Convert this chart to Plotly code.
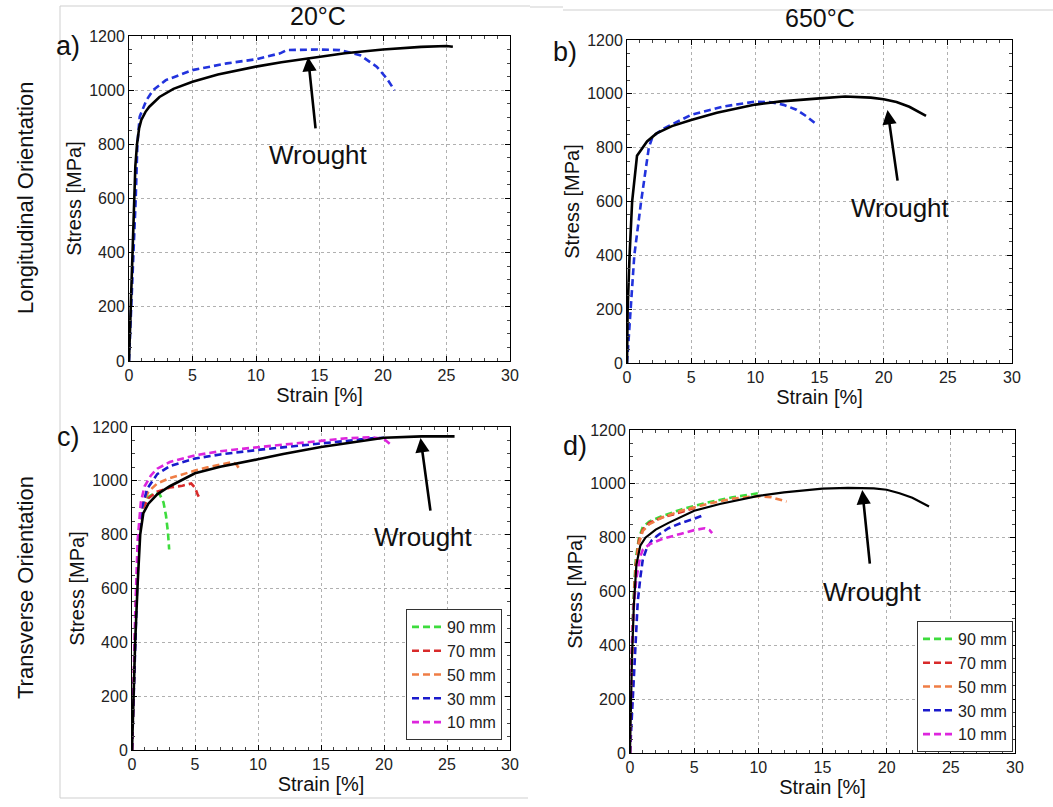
import plotly.graph_objects as go

# ---- data (strain %, stress MPa) ----
a_wrought_x = [0, 0.13, 0.26, 0.37, 0.5, 0.63, 0.8, 0.97, 1.3, 1.6, 2.4, 3.5, 5, 7, 10, 12, 15, 17, 20, 23, 25, 25.5]
a_wrought_y = [0, 200, 400, 600, 720, 800, 860, 890, 920, 939, 975, 1005, 1031, 1058, 1087, 1103, 1124, 1136, 1150, 1160, 1163, 1160]
a_am_x = [0, 0.18, 0.4, 0.53, 0.66, 0.84, 1.37, 1.9, 2.9, 5, 7.7, 10, 11.9, 12.4, 14.8, 16.6, 18.2, 19.5, 20.3, 20.9]
a_am_y = [0, 200, 400, 600, 800, 902, 963, 1000, 1037, 1074, 1099, 1114, 1136, 1148, 1150, 1148, 1129, 1087, 1043, 1000]

b_wrought_x = [0, 0.05, 0.2, 0.4, 0.78, 1.56, 2.3, 3.5, 5, 7, 10, 12, 15, 17, 19, 20, 21, 22, 23.3]
b_wrought_y = [0, 200, 400, 600, 770, 823, 853, 880, 903, 930, 960, 972, 983, 990, 986, 980, 970, 952, 918]
b_am_x = [0, 0.26, 0.57, 1.1, 1.7, 2.0, 2.9, 5, 7.5, 10, 11.2, 12.2, 13.2, 14, 14.8]
b_am_y = [0, 200, 400, 600, 800, 842, 872, 922, 953, 971, 969, 959, 941, 916, 885]

c_wrought_x = [0, 0.1, 0.25, 0.45, 0.65, 0.9, 1.3, 2, 3, 5, 7, 10, 12, 15, 17, 20, 23, 25, 25.6]
c_wrought_y = [0, 200, 400, 620, 800, 880, 915, 950, 980, 1028, 1052, 1080, 1100, 1126, 1140, 1160, 1165, 1166, 1165]
c_90_x = [0, 0.15, 0.35, 0.6, 0.9, 1.3, 1.8, 2.2, 2.5, 2.7, 2.85, 2.95]
c_90_y = [0, 300, 600, 830, 910, 940, 955, 950, 920, 870, 810, 745]
c_70_x = [0, 0.15, 0.35, 0.6, 0.9, 1.3, 2, 3, 4, 4.7, 5.0, 5.2, 5.4]
c_70_y = [0, 300, 600, 820, 900, 935, 960, 975, 982, 990, 975, 950, 932]
c_50_x = [0, 0.15, 0.35, 0.6, 0.9, 1.3, 2, 3, 4, 5, 6, 7, 8, 8.3, 8.5]
c_50_y = [0, 300, 600, 830, 920, 960, 990, 1010, 1025, 1038, 1050, 1060, 1070, 1060, 1045]
c_30_x = [0, 0.1, 0.3, 0.5, 0.8, 1.2, 2, 3, 5, 7, 10, 12, 15, 17, 19, 20]
c_30_y = [0, 150, 450, 750, 900, 970, 1025, 1055, 1083, 1098, 1115, 1125, 1140, 1150, 1158, 1160]
c_10_x = [0, 0.1, 0.25, 0.45, 0.7, 1, 1.5, 2, 3, 5, 7, 10, 12, 15, 17, 19, 20, 20.6]
c_10_y = [0, 200, 500, 780, 920, 980, 1020, 1045, 1070, 1095, 1110, 1125, 1135, 1150, 1158, 1162, 1155, 1132]

d_wrought_x = [0, 0.05, 0.15, 0.3, 0.5, 0.8, 1.2, 2, 3, 5, 7, 10, 12, 15, 17, 19, 20, 21, 22, 23.3]
d_wrought_y = [0, 150, 350, 550, 700, 770, 800, 830, 855, 900, 925, 955, 968, 982, 985, 983, 978, 965, 948, 916]
d_90_x = [0, 0.1, 0.25, 0.45, 0.7, 1, 1.5, 2.5, 4, 6, 8, 10]
d_90_y = [0, 300, 550, 720, 800, 840, 860, 880, 905, 930, 950, 965]
d_70_x = [0, 0.1, 0.25, 0.45, 0.7, 1, 1.5, 2.5, 4, 5, 5.1]
d_70_y = [0, 280, 520, 700, 790, 830, 855, 875, 895, 910, 905]
d_50_x = [0, 0.1, 0.25, 0.45, 0.7, 1, 1.5, 2.5, 4, 6, 8, 10, 11, 12.2]
d_50_y = [0, 270, 500, 690, 780, 825, 850, 875, 900, 925, 945, 955, 950, 934]
d_30_x = [0, 0.2, 0.4, 0.6, 0.8, 1, 1.3, 1.7, 2.2, 3, 4, 5, 5.8]
d_30_y = [0, 200, 400, 560, 650, 720, 760, 790, 810, 835, 855, 870, 885]
d_10_x = [0, 0.05, 0.15, 0.3, 0.5, 0.8, 1, 1.5, 2.5, 4, 5, 5.8, 6.2, 6.4]
d_10_y = [0, 200, 400, 550, 650, 730, 755, 775, 795, 815, 828, 835, 828, 817]

labels = ['90 mm', '70 mm', '50 mm', '30 mm', '10 mm']
colors = ['#3ddc3d', '#d82a2a', '#ef7d45', '#1a1acc', '#dd25dd']

# arrow tail / head for the "Wrought" callouts
arrows = {
    'a': dict(head=(14.1, 1122), tail=(14.7, 853), text=(14.9, 760)),
    'b': dict(head=(20.3, 940), tail=(21.1, 672), text=(21.3, 575)),
    'c': dict(head=(22.9, 1159), tail=(23.7, 884), text=(23.1, 790)),
    'd': dict(head=(18.1, 977), tail=(18.7, 698), text=(18.9, 600)),
}

FONT = 'Liberation Sans, Arial, sans-serif'
dash = '7px,4px'

fig = go.Figure()

def add(x, y, ax, color, dashed=True, name=None, legend=None, width=2.6):
    fig.add_trace(go.Scatter(
        x=x, y=y, mode='lines', xaxis='x' + ax, yaxis='y' + ax,
        line=dict(color=color, width=width, dash=dash if dashed else 'solid'),
        name=name, showlegend=legend is not None, legend=legend))

add(a_am_x, a_am_y, '', '#2233dd')
add(a_wrought_x, a_wrought_y, '', 'black', dashed=False)
add(b_am_x, b_am_y, '2', '#2233dd')
add(b_wrought_x, b_wrought_y, '2', 'black', dashed=False)

c_sets = [(c_90_x, c_90_y), (c_70_x, c_70_y), (c_50_x, c_50_y), (c_30_x, c_30_y), (c_10_x, c_10_y)]
d_sets = [(d_90_x, d_90_y), (d_70_x, d_70_y), (d_50_x, d_50_y), (d_30_x, d_30_y), (d_10_x, d_10_y)]
for (x, y), lab, col in zip(c_sets, labels, colors):
    add(x, y, '3', col, name=lab, legend='legend')
add(c_wrought_x, c_wrought_y, '3', 'black', dashed=False)
for (x, y), lab, col in zip(d_sets, labels, colors):
    add(x, y, '4', col, name=lab, legend='legend2')
add(d_wrought_x, d_wrought_y, '4', 'black', dashed=False, width=2.2)

W, H = 1053, 807
# plot boxes in pixels: left, right, top, bottom
boxes = {'': (129, 510, 36, 361), '2': (627, 1012, 40, 363),
         '3': (132, 510, 427, 750), '4': (630, 1015, 430, 753)}

def xaxis(dom, anchor):
    return dict(domain=dom, anchor=anchor, range=[0, 30], dtick=5, automargin=False,
                showline=True, linecolor='black', linewidth=1, mirror='ticks',
                ticks='inside', ticklen=5, tickcolor='black',
                minor=dict(ticks='inside', ticklen=3, dtick=1, tickcolor='#444'),
                showgrid=True, gridcolor='#b0b0b0', griddash='dot', gridwidth=1,
                zeroline=False, tickfont=dict(size=16, color='#222'),
                title=dict(text='Strain [%]', font=dict(size=20, color='#111'), standoff=4))

def yaxis(dom, anchor):
    return dict(domain=dom, anchor=anchor, range=[0, 1200], dtick=200, automargin=False,
                showline=True, linecolor='black', linewidth=1, mirror='ticks',
                ticks='inside', ticklen=5, tickcolor='black',
                minor=dict(ticks='inside', ticklen=3, dtick=50, tickcolor='#444'),
                showgrid=True, gridcolor='#b0b0b0', griddash='dot', gridwidth=1,
                zeroline=False, tickfont=dict(size=16, color='#222'),
                title=dict(text='Stress [MPa]', font=dict(size=20, color='#111'), standoff=2))

layout = dict(width=W, height=H, margin=dict(l=0, r=0, t=0, b=0, autoexpand=False),
              paper_bgcolor='white', plot_bgcolor='white',
              font=dict(family=FONT, color='black'))
for k, (l, r, t, b) in boxes.items():
    xd = [l / W, r / W]
    yd = [1 - b / H, 1 - t / H]
    layout['xaxis' + k] = xaxis(xd, 'y' + k)
    layout['yaxis' + k] = yaxis(yd, 'x' + k)

legend_style = dict(xanchor='right', yanchor='bottom', bgcolor='white',
                    bordercolor='#333', borderwidth=1, tracegroupgap=0,
                    font=dict(size=16, color='#222'), itemwidth=30)
layout['legend'] = dict(x=502 / W, y=1 - 740 / H, **legend_style)
layout['legend2'] = dict(x=1013 / W, y=1 - 752 / H, **legend_style)

fig.update_layout(**layout)

# Wrought callouts
for key, ax in zip(['a', 'b', 'c', 'd'], ['', '2', '3', '4']):
    a = arrows[key]
    fig.add_annotation(x=a['head'][0], y=a['head'][1], ax=a['tail'][0], ay=a['tail'][1],
                       xref='x' + ax, yref='y' + ax, axref='x' + ax, ayref='y' + ax,
                       text='', showarrow=True, arrowhead=2, arrowsize=1.1,
                       arrowwidth=2.6, arrowcolor='black')
    fig.add_annotation(x=a['text'][0], y=a['text'][1], xref='x' + ax, yref='y' + ax,
                       text='Wrought', showarrow=False, font=dict(size=26, color='#111'))

# panel letters, column and row headings
def paper_text(txt, px, py, size, angle=0):
    fig.add_annotation(x=px / W, y=1 - py / H, xref='paper', yref='paper', text=txt,
                       xanchor='center', yanchor='middle',
                       showarrow=False, textangle=angle, font=dict(size=size, color='#111'))

paper_text('20°C', 318, 16, 25)
paper_text('650°C', 820, 18, 25)
paper_text('a)', 68, 46, 27)
paper_text('b)', 565, 52, 27)
paper_text('c)', 68, 437, 27)
paper_text('d)', 575, 446, 27)
paper_text('Longitudinal Orientation', 25, 198, 22, -90)
paper_text('Transverse Orientation', 25, 588, 22, -90)

# faint frame lines left over from the source layout
for x0, y0, x1, y1 in [(60, 6, 530, 6), (60, 6, 60, 798), (60, 798, 528, 798),
                       (563, 10, 1053, 10), (530, 7, 563, 7)]:
    fig.add_shape(type='line', xref='paper', yref='paper', x0=x0 / W, x1=x1 / W,
                  y0=1 - y0 / H, y1=1 - y1 / H, line=dict(color='#cfcfcf', width=1))

# drop the default page margin so the figure sits at the window origin
fig.write_html('out.html', config={'displayModeBar': False},
               post_script="document.body.style.margin='0';")
